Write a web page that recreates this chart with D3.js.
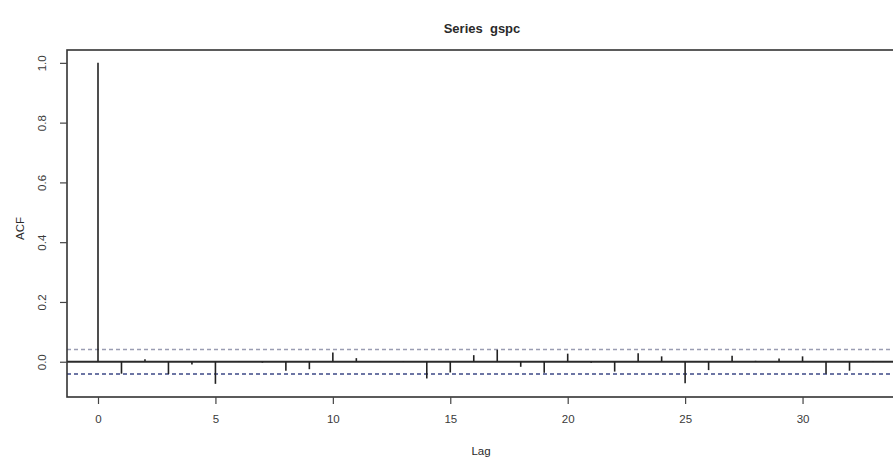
<!DOCTYPE html>
<html>
<head>
<meta charset="utf-8">
<script src="https://cdn.jsdelivr.net/npm/d3@7"></script>
<style>
  html, body { margin: 0; padding: 0; background: #fff; }
  svg { display: block; }
  text { font-family: "Liberation Sans", Arial, sans-serif; fill: #2a2a2a; }
</style>
</head>
<body>
<svg id="chart" width="893" height="462"></svg>
<script>
// Autocorrelation of gspc returns, lags 0..33
const lags = d3.range(0, 34);
const acfValues = [
  1.000, -0.040, 0.008, -0.041, -0.009, -0.074, 0.001, -0.003, -0.030, -0.025,
  0.031, 0.012, 0.001, 0.002, -0.056, -0.036, 0.022, 0.040, -0.017, -0.037,
  0.027, -0.003, -0.033, 0.028, 0.018, -0.072, -0.028, 0.020, 0.003, 0.011,
  0.018, -0.040, -0.030, 0.002
];
const confBound = 0.041;            // 1.96 / sqrt(n)
const xTicks = [0, 5, 10, 15, 20, 25, 30];
const yTicks = [0.0, 0.2, 0.4, 0.6, 0.8, 1.0];
const titleText = "Series  gspc";
const xLabel = "Lag";
const yLabel = "ACF";

const svg = d3.select("#chart");
const box = { left: 67, right: 904, top: 50, bottom: 397 };

// R-style axis limits padded by 4%
const xMin = 0, xMax = 33;
const xPad = (xMax - xMin) * 0.04;
const yMin = -0.075, yMax = 1.0;
const yPad = (yMax - yMin) * 0.04;

const x = d3.scaleLinear().domain([xMin - xPad, xMax + xPad]).range([box.left, box.right]);
const y = d3.scaleLinear().domain([yMin - yPad, yMax + yPad]).range([box.bottom, box.top]);

const plot = svg.append("g");

// clip region for everything inside the frame
svg.append("defs").append("clipPath").attr("id", "frame")
  .append("rect").attr("x", box.left).attr("y", box.top)
  .attr("width", box.right - box.left).attr("height", box.bottom - box.top);
const inner = plot.append("g").attr("clip-path", "url(#frame)");

// zero reference line
inner.append("line")
  .attr("x1", box.left).attr("x2", box.right)
  .attr("y1", y(0)).attr("y2", y(0))
  .attr("stroke", "#2b2b2b").attr("stroke-width", 2);

// confidence bounds
inner.append("line")
  .attr("x1", box.left).attr("x2", box.right)
  .attr("y1", y(confBound)).attr("y2", y(confBound))
  .attr("stroke", "#9a9db2").attr("stroke-width", 1.3)
  .attr("stroke-dasharray", "4,3");
inner.append("line")
  .attr("x1", box.left).attr("x2", box.right)
  .attr("y1", y(-confBound)).attr("y2", y(-confBound))
  .attr("stroke", "#3d4886").attr("stroke-width", 1.5)
  .attr("stroke-dasharray", "4,3");

// ACF spikes
inner.selectAll("line.spike")
  .data(lags)
  .join("line")
  .attr("class", "spike")
  .attr("x1", d => x(d)).attr("x2", d => x(d))
  .attr("y1", y(0)).attr("y2", d => y(acfValues[d]))
  .attr("stroke", "#222").attr("stroke-width", 1.6);

// frame
plot.append("rect")
  .attr("x", box.left).attr("y", box.top)
  .attr("width", box.right - box.left).attr("height", box.bottom - box.top)
  .attr("fill", "none").attr("stroke", "#333").attr("stroke-width", 1.6);

// x axis (bottom)
const xAxis = d3.axisBottom(x).tickValues(xTicks).tickSize(7).tickPadding(11)
  .tickFormat(d3.format("d"));
const gx = svg.append("g").attr("transform", `translate(0,${box.bottom})`).call(xAxis);
gx.select(".domain").remove();
gx.selectAll(".tick line").attr("stroke", "#444").attr("stroke-width", 1.2);
gx.selectAll(".tick text").attr("font-size", 11.5).style("fill", "#3a3a3a");

// y axis (left), labels rotated as in R's default las=0
const yAxis = d3.axisLeft(y).tickValues(yTicks).tickSize(7).tickFormat(d3.format(".1f"));
const gy = svg.append("g").attr("transform", `translate(${box.left},0)`).call(yAxis);
gy.select(".domain").remove();
gy.selectAll(".tick line").attr("stroke", "#444").attr("stroke-width", 1.2);
gy.selectAll(".tick text")
  .attr("font-size", 11.5).style("fill", "#3a3a3a")
  .attr("x", null).attr("dy", null)
  .attr("text-anchor", "middle")
  .attr("transform", "translate(-25,0) rotate(-90)")
  .attr("y", 4);

// titles
svg.append("text")
  .attr("x", 482).attr("y", 33)
  .attr("text-anchor", "middle")
  .attr("font-size", 13).attr("font-weight", "bold")
  .style("white-space", "pre")
  .text(titleText);

svg.append("text")
  .attr("x", 481).attr("y", 455)
  .attr("text-anchor", "middle")
  .attr("font-size", 11.5)
  .text(xLabel);

svg.append("text")
  .attr("transform", `translate(24,${(box.top + box.bottom) / 2 + 5}) rotate(-90)`)
  .attr("text-anchor", "middle")
  .attr("font-size", 11.5)
  .text(yLabel);
</script>
</body>
</html>
